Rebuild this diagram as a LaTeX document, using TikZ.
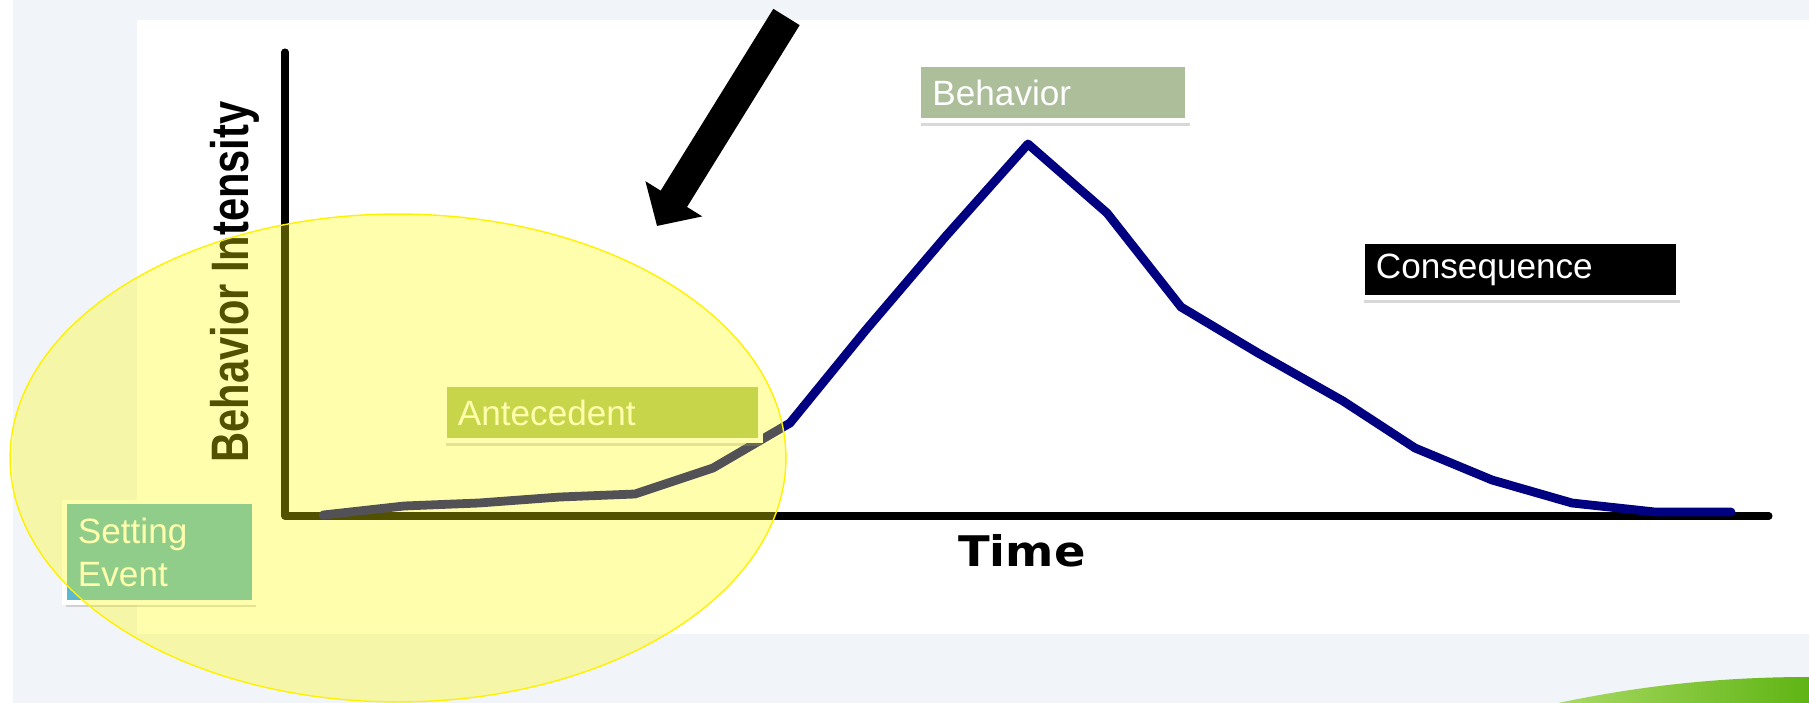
\documentclass[tikz,border=0pt]{standalone}
\usepackage{fontspec}
\setmainfont{Liberation Sans}
\newfontfamily\timefam{DejaVu Sans}
\usepackage{tikz}
\usetikzlibrary{arrows.meta,shadows}
\definecolor{panelgray}{RGB}{241,244,248}
\definecolor{behavbox}{RGB}{173,190,154}
\definecolor{antebox}{RGB}{172,195,108}
\definecolor{settbox}{RGB}{92,184,204}
\definecolor{curveblue}{RGB}{0,0,128}
\definecolor{hiliteyel}{RGB}{255,252,0}
\definecolor{leaflight}{RGB}{170,218,100}
\definecolor{leafdark}{RGB}{95,180,20}
\newcommand{\boxlblfont}{\fontsize{20}{24.4}\selectfont}
\newcommand{\ylblfont}{\bfseries\fontsize{30}{32}\selectfont}
\newcommand{\timelblfont}{\timefam\bfseries\fontsize{24}{26}\selectfont}
\tikzset{
  lblbox/.style    = {rectangle, anchor=north west, draw=white, line width=2.8pt,
                      minimum height=1.13cm, inner xsep=0.27cm, inner ysep=0pt,
                      font=\boxlblfont, text=white, align=left,
                      drop shadow={shadow xshift=1pt, shadow yshift=-2.6pt, opacity=0.3}},
  axisline/.style  = {line width=4pt, line cap=round, line join=round},
  curveline/.style = {line width=5pt, curveblue, line cap=round, line join=round},
  ylbl/.style      = {rotate=90, anchor=base, inner sep=0pt, font=\ylblfont},
  xlbl/.style      = {anchor=base, inner sep=0pt, font=\timelblfont},
  bigarrow/.style  = {line width=0.62cm, -{Triangle[length=0.64cm, width=1.3cm]}},
  hilite/.style    = {draw=yellow, line width=0.8pt, fill=hiliteyel, fill opacity=0.32}
}

\begin{document}
\begin{tikzpicture}[x=0.02cm, y=-0.02cm]
  % Background
  \useasboundingbox (0,0) rectangle (1809,703);
  \fill[panelgray] (0,0) rectangle (1809,703);
  \fill[white] (0,0) rectangle (13,703);
  \fill[white] (137,20) rectangle (1809,634);
  % Leaf corner
  \shade[left color=leaflight, right color=leafdark]
    (1558,703) .. controls (1630,688) and (1710,677) .. (1809,677) -- (1809,703) -- cycle;
  % Axes
  \coordinate (ytop)   at (285,52);
  \coordinate (origin) at (285,516);
  \coordinate (xend)   at (1769,516);
  \draw[axisline] (ytop) -- (origin) -- (xend);
  \node[ylbl] (ylab) at (248,282) {\scalebox{0.79}[1]{Behavior Intensity}};
  \node[xlbl] (xlab) at (1022,566) {\scalebox{1.1}[1]{Time}};
  % Intensity curve
  \draw[curveline] (323,515) -- (404,506) -- (479,503) -- (560,497) -- (635,494)
    -- (713,468) -- (790,423) -- (865,331) -- (946,236) -- (1028,144)
    -- (1107,213) -- (1181,307) -- (1258,353) -- (1343,401) -- (1415,448)
    -- (1492,480) -- (1572,503) -- (1655,512) -- (1731,512);
  % Phase labels
  \node[lblbox, fill=settbox, text width=3.26cm, minimum height=2.01cm]
    (setting) at (62,499.5) {Setting\\Event};
  \node[lblbox, fill=antebox, text width=5.78cm] (antecedent) at (442,382) {Antecedent};
  \node[lblbox, fill=behavbox, text width=4.84cm] (behavior) at (916.5,62) {Behavior};
  \node[lblbox, fill=black, text width=5.78cm] (consequence) at (1360,239) {Consequence};
  % Pointer arrow
  \coordinate (arrtail) at (786.5,17);
  \coordinate (arrtip)  at (657,226);
  \draw[bigarrow] (arrtail) -- (arrtip);
  % Highlight over setting event and antecedent
  \draw[hilite] (398,458) ellipse [x radius=7.76cm, y radius=4.88cm];
\end{tikzpicture}
\end{document}
